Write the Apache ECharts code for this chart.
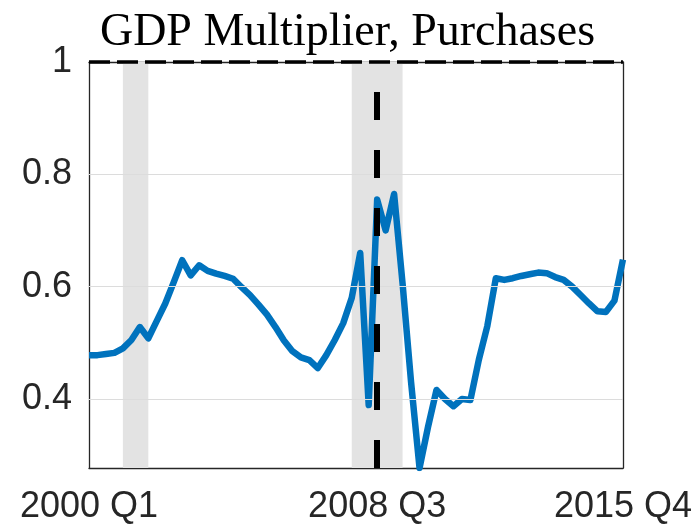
<!DOCTYPE html>
<html>
<head>
<meta charset="utf-8">
<script src="https://cdn.jsdelivr.net/npm/echarts@6/dist/echarts.min.js"></script>
<style>
  html, body { margin: 0; padding: 0; background: #fff; }
  #chart { width: 695px; height: 530px; }
</style>
</head>
<body>
<div id="chart"></div>
<script>
// Quarterly sample 2000 Q1 .. 2015 Q4
const quarters = [];
for (let y = 2000; y <= 2015; y++) {
  for (let q = 1; q <= 4; q++) quarters.push(y + ' Q' + q);
}

// Estimated GDP multiplier of government purchases, one value per quarter
const multiplier = [
  0.478, 0.478, 0.480, 0.482, 0.490, 0.505, 0.528, 0.508,
  0.539, 0.570, 0.608, 0.647, 0.620, 0.638, 0.628, 0.623,
  0.619, 0.614, 0.599, 0.585, 0.568, 0.550, 0.528, 0.504,
  0.485, 0.474, 0.469, 0.455, 0.478, 0.505, 0.535, 0.580,
  0.660, 0.389, 0.755, 0.700, 0.765, 0.605, 0.430, 0.277,
  0.350, 0.416, 0.400, 0.387, 0.400, 0.398, 0.470, 0.530,
  0.615, 0.612, 0.615, 0.619, 0.622, 0.625, 0.624, 0.617,
  0.612, 0.600, 0.585, 0.570, 0.556, 0.555, 0.575, 0.648
];

// NBER recessions (start, end quarter)
const recessions = [
  ['2001 Q1', '2001 Q4'],
  ['2007 Q4', '2009 Q2']
];

// Quarter marked with the vertical dashed line
const eventQuarter = '2008 Q3';

const xTickLabels = ['2000 Q1', '2008 Q3', '2015 Q4'];
const yTickValues = [0.4, 0.6, 0.8, 1];
const yMin = 0.277;
const yMax = 1;

const ink = '#262626';
const showTick = (idx, val) => xTickLabels.indexOf(val) !== -1;

const chart = echarts.init(document.getElementById('chart'), null, { renderer: 'canvas' });

chart.setOption({
  animation: false,
  backgroundColor: '#ffffff',
  textStyle: { fontFamily: 'Liberation Sans' },
  title: {
    text: 'GDP Multiplier, Purchases',
    left: 'center',
    top: 5,
    textStyle: {
      fontFamily: 'Liberation Serif',
      fontWeight: 'normal',
      fontSize: 46,
      color: '#000'
    }
  },
  grid: { left: 89, right: 71, top: 62, bottom: 62 },
  xAxis: [
    {
      type: 'category',
      data: quarters,
      boundaryGap: false,
      axisLine: { show: true, lineStyle: { color: ink, width: 1.3 } },
      axisTick: { show: false },
      axisLabel: {
        interval: showTick,
        fontSize: 36,
        color: ink,
        margin: 21,
        showMinLabel: true,
        showMaxLabel: true
      },
      splitLine: { show: true, interval: showTick, lineStyle: { color: '#dedede', width: 1 } }
    },
    {
      type: 'category',
      data: quarters,
      boundaryGap: false,
      position: 'top',
      axisLine: { show: true, lineStyle: { color: ink, width: 1.3 } },
      axisTick: { show: false },
      axisLabel: { show: false },
      splitLine: { show: false }
    }
  ],
  yAxis: [
    {
      type: 'value',
      min: yMin,
      max: yMax,
      axisLine: { show: true, lineStyle: { color: ink, width: 1.3 } },
      axisTick: { show: true, inside: true, length: 6, customValues: yTickValues, lineStyle: { color: ink } },
      axisLabel: {
        customValues: yTickValues,
        fontSize: 36,
        color: ink,
        margin: 17,
        formatter: v => (v === 1 ? '1' : v.toFixed(1))
      },
      splitLine: { show: false }
    },
    {
      type: 'value',
      min: yMin,
      max: yMax,
      position: 'right',
      axisLine: { show: true, lineStyle: { color: ink, width: 1.3 } },
      axisTick: { show: true, inside: true, length: 6, customValues: yTickValues, lineStyle: { color: ink } },
      axisLabel: { show: false },
      splitLine: { show: false }
    }
  ],
  series: [
    {
      // recession shading and horizontal grid lines
      type: 'line',
      data: [],
      z: 1,
      silent: true,
      markArea: {
        silent: true,
        itemStyle: { color: '#e3e3e3' },
        data: recessions.map(r => [{ xAxis: r[0] }, { xAxis: r[1] }])
      },
      markLine: {
        silent: true,
        symbol: 'none',
        label: { show: false },
        lineStyle: { color: '#dcdcdc', width: 1, type: 'solid' },
        data: yTickValues.filter(v => v < yMax).map(v => ({ yAxis: v }))
      }
    },
    {
      name: 'Purchases',
      type: 'line',
      data: multiplier,
      showSymbol: false,
      z: 3,
      lineStyle: { color: '#0072BD', width: 6.5, join: 'round' },
      itemStyle: { color: '#0072BD' }
    },
    {
      // dashed reference lines
      type: 'line',
      data: [],
      z: 4,
      silent: true,
      markLine: {
        silent: true,
        symbol: 'none',
        label: { show: false },
        data: [
          { xAxis: eventQuarter, lineStyle: { color: '#000', width: 6, type: [28, 30] } },
          { yAxis: yMax, lineStyle: { color: '#000', width: 3.5, type: [21, 7] } }
        ]
      }
    }
  ]
});
</script>
</body>
</html>
